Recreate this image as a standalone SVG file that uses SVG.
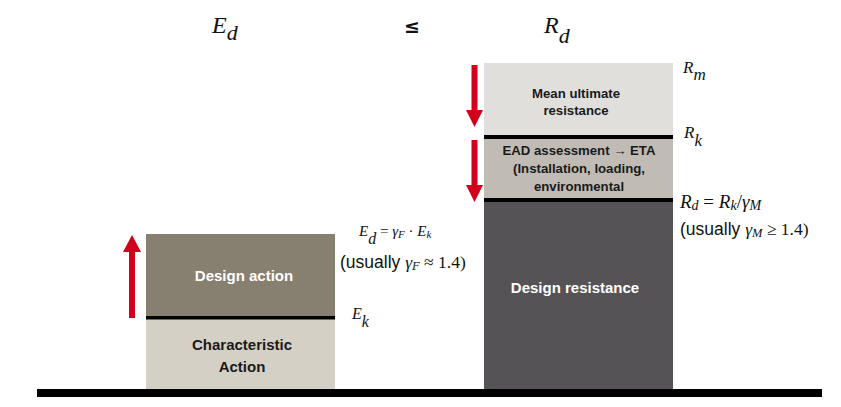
<svg xmlns="http://www.w3.org/2000/svg" width="841" height="407" viewBox="0 0 841 407">
<style>
.box{font-family:"Liberation Sans",Arial,sans-serif;font-weight:bold;text-anchor:middle}
.dark{fill:#1a1a1a;font-size:13.2px}
.lt{fill:#ffffff;font-size:15px}
.blk{fill:#1a1a1a;font-size:15px}
.m{font-family:"Liberation Serif","DejaVu Serif",serif;font-style:italic;fill:#111}
.up{font-style:normal}
.sans{font-family:"Liberation Sans",Arial,sans-serif;font-style:normal}
.div{fill:#000}
.arr{fill:#d0021b}
</style>
<rect width="841" height="407" fill="#ffffff"/>

<g id="title">
  <text class="m" x="212" y="33" font-size="24">E<tspan dy="7" font-size="22">d</tspan></text>
  <text x="404" y="33" font-family="DejaVu Sans,sans-serif" font-weight="bold" font-size="19" fill="#111">≤</text>
  <text class="m" x="544" y="33" font-size="24">R<tspan dy="10" font-size="22">d</tspan></text>
</g>

<g id="characteristic-action">
  <rect x="146" y="318" width="189" height="71" fill="#d5d0c6"/>
  <text class="box blk" x="242" y="350">Characteristic</text>
  <text class="box blk" x="242" y="372">Action</text>
</g>
<g id="design-action">
  <rect x="146" y="234" width="189" height="83" fill="#877f6f"/>
  <text class="box lt" x="244" y="281">Design action</text>
  <rect class="div" x="146" y="316" width="189" height="3.5"/>
</g>

<g id="design-resistance">
  <rect x="484" y="200" width="189" height="189" fill="#555356"/>
  <text class="box lt" x="575" y="293">Design resistance</text>
</g>
<g id="ead-assessment">
  <rect x="484" y="137" width="189" height="63" fill="#c0bcb5"/>
  <text class="box dark" x="579" y="155">EAD assessment → ETA</text>
  <text class="box dark" x="579" y="173">(Installation, loading,</text>
  <text class="box dark" x="579" y="191">environmental</text>
  <rect class="div" x="484" y="198" width="189" height="4"/>
</g>
<g id="mean-ultimate-resistance">
  <rect x="484" y="63" width="189" height="74" fill="#e0dfdb"/>
  <text class="box dark" x="576" y="98">Mean ultimate</text>
  <text class="box dark" x="576" y="115">resistance</text>
  <rect class="div" x="484" y="135" width="189" height="4"/>
</g>

<g id="ground">
  <rect x="37" y="389" width="785" height="8" fill="#000"/>
</g>

<g id="labels">
  <text class="m" x="683" y="73" font-size="17">R<tspan dy="7" font-size="17">m</tspan></text>
  <text class="m" x="684" y="138" font-size="17">R<tspan dy="8" font-size="17">k</tspan></text>
  <text class="m" x="680" y="208" font-size="19">R<tspan font-size="14" dy="2">d</tspan><tspan class="up" dy="-2"> = </tspan>R<tspan font-size="14" dy="2">k</tspan><tspan class="up" dy="-2">/</tspan>γ<tspan font-size="14" dy="2">M</tspan></text>
  <text class="m" x="680" y="235" font-size="17.5"><tspan class="sans">(usually </tspan>γ<tspan font-size="12.5" dy="2">M</tspan><tspan class="up" dy="-2"> ≥ 1.4)</tspan></text>
  <text class="m" x="359" y="236" font-size="15">E<tspan dy="8" font-size="16">d</tspan><tspan class="up" dy="-8"> = </tspan>γ<tspan font-size="11" dy="2">F</tspan><tspan class="up" dy="-2"> · </tspan>E<tspan font-size="11" dy="2">k</tspan></text>
  <text class="m" x="340" y="268" font-size="17.5"><tspan class="sans">(usually </tspan>γ<tspan font-size="12.5" dy="2">F</tspan><tspan class="up" dy="-2"> ≈ 1.4)</tspan></text>
  <text class="m" x="352" y="319" font-size="16">E<tspan dy="8" font-size="16">k</tspan></text>
</g>

<g id="connectors">
  <polygon class="arr" points="471.5,65 477.5,65 477.5,110 483,110 474.5,127 466,110 471.5,110"/>
  <polygon class="arr" points="471.5,140 477.5,140 477.5,185 483,185 474.5,202 466,185 471.5,185"/>
  <polygon class="arr" points="129,318 135,318 135,252 141,252 132,235 123,252 129,252"/>
</g>
</svg>
